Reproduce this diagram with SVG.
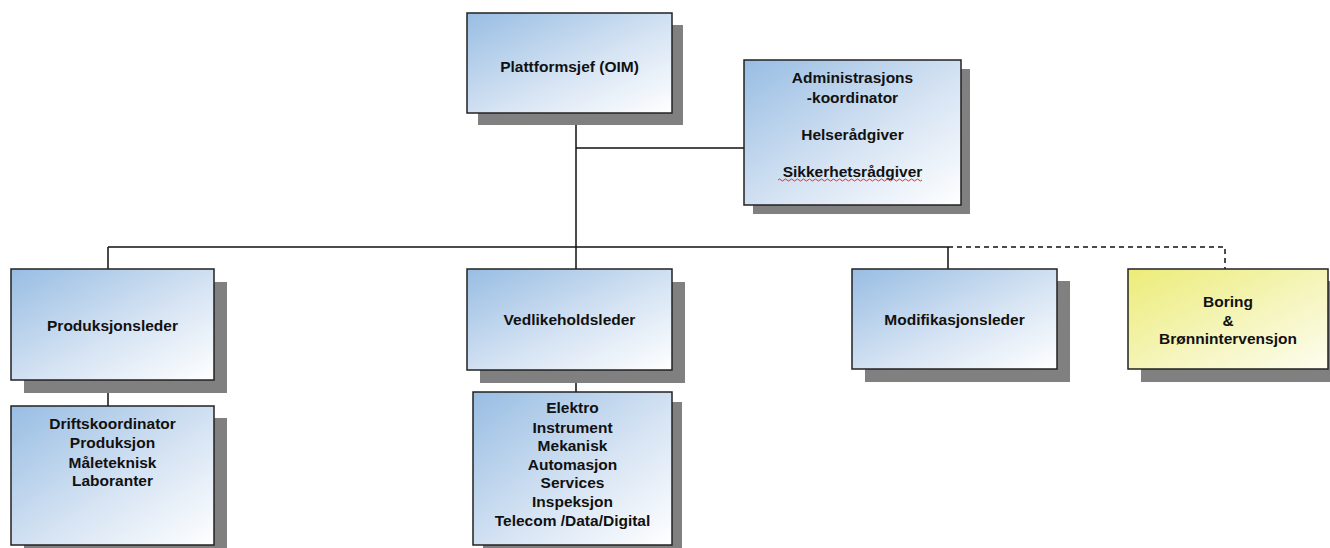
<svg xmlns="http://www.w3.org/2000/svg" width="1330" height="548" viewBox="0 0 1330 548">
<defs>
<linearGradient id="gb" x1="0" y1="0" x2="1" y2="1">
<stop offset="0" stop-color="#98bde3"/>
<stop offset="0.55" stop-color="#d5e3f3"/>
<stop offset="1" stop-color="#ffffff"/>
</linearGradient>
<linearGradient id="gy" x1="0" y1="0" x2="1" y2="1">
<stop offset="0" stop-color="#ecec78"/>
<stop offset="0.55" stop-color="#f5f5bd"/>
<stop offset="1" stop-color="#fdfdf0"/>
</linearGradient>
</defs>
<style>
.sh{fill:#808080}
.bx{stroke:#222;stroke-width:1.5}
.b{fill:url(#gb)}
.y{fill:url(#gy)}
text{font-family:"Liberation Sans",Arial,sans-serif;font-weight:bold;font-size:15.5px;fill:#111;text-anchor:middle;dominant-baseline:central}
.ln{stroke:#111;stroke-width:1.5;fill:none}
.ds{stroke-dasharray:5,4}
</style>
<rect width="1330" height="548" fill="#fff"/>
<g id="connectors">
<path class="ln" d="M576 113V269M576 148H744M108 247H948M108 247V269M948 247V269M108 380V406M576 370V392"/>
<path class="ln ds" d="M948 247H1225V269"/>
</g>
<g id="oim">
<rect class="sh" x="478" y="25" width="205" height="100"/>
<rect class="bx b" x="467" y="13" width="205" height="100"/>
<text x="569.5" y="66">Plattformsjef (OIM)</text>
</g>
<g id="admin">
<rect class="sh" x="753" y="69" width="217" height="145"/>
<rect class="bx b" x="744" y="60" width="217" height="145"/>
<text x="852.5" y="77">Administrasjons</text>
<text x="852.5" y="97">-koordinator</text>
<text x="852.5" y="134">Helserådgiver</text>
<text x="852.5" y="171">Sikkerhetsrådgiver</text>
<path d="M778 180q1.5-2 3 0t3 0t3 0t3 0t3 0t3 0t3 0t3 0t3 0t3 0t3 0t3 0t3 0t3 0t3 0t3 0t3 0t3 0t3 0t3 0t3 0t3 0t3 0t3 0t3 0t3 0t3 0t3 0t3 0t3 0t3 0t3 0t3 0t3 0t3 0t3 0t3 0t3 0t3 0t3 0t3 0t3 0t3 0t3 0t3 0t3 0t3 0t3 0" stroke="#e03030" stroke-width="1" fill="none"/>
</g>
<g id="produksjonsleder">
<rect class="sh" x="24" y="282" width="203" height="111"/>
<rect class="bx b" x="11" y="269" width="203" height="111"/>
<text x="112.5" y="325">Produksjonsleder</text>
</g>
<g id="drift">
<rect class="sh" x="24" y="418" width="203" height="130"/>
<rect class="bx b" x="11" y="406" width="203" height="139"/>
<text x="112.5" y="423">Driftskoordinator</text>
<text x="112.5" y="442">Produksjon</text>
<text x="112.5" y="462">Måleteknisk</text>
<text x="112.5" y="480">Laboranter</text>
</g>
<g id="vedlikeholdsleder">
<rect class="sh" x="480" y="282" width="205" height="101"/>
<rect class="bx b" x="467" y="269" width="205" height="101"/>
<text x="569.5" y="319">Vedlikeholdsleder</text>
</g>
<g id="elektro">
<rect class="sh" x="483" y="402" width="199" height="146"/>
<rect class="bx b" x="473" y="392" width="199" height="153"/>
<text x="572.5" y="407">Elektro</text>
<text x="572.5" y="427">Instrument</text>
<text x="572.5" y="445">Mekanisk</text>
<text x="572.5" y="464">Automasjon</text>
<text x="572.5" y="482">Services</text>
<text x="572.5" y="501">Inspeksjon</text>
<text x="572.5" y="520">Telecom /Data/Digital</text>
</g>
<g id="modifikasjonsleder">
<rect class="sh" x="865" y="281" width="205" height="101"/>
<rect class="bx b" x="852" y="269" width="205" height="100"/>
<text x="954.5" y="319">Modifikasjonsleder</text>
</g>
<g id="boring">
<rect class="sh" x="1141" y="281" width="200" height="101"/>
<rect class="bx y" x="1128" y="269" width="200" height="100"/>
<text x="1228" y="301">Boring</text>
<text x="1228" y="320">&amp;</text>
<text x="1228" y="338">Brønnintervensjon</text>
</g>
</svg>
